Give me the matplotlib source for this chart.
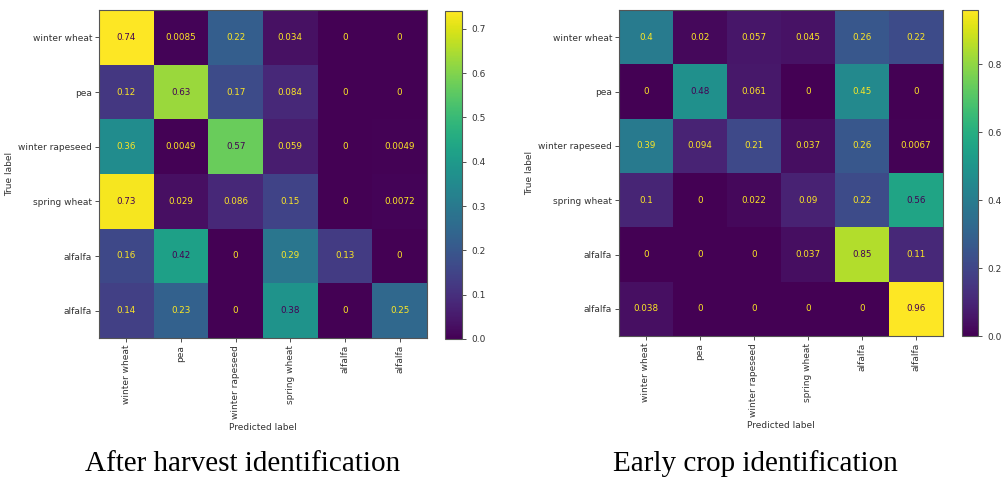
import matplotlib.pyplot as plt
import numpy as np

# class names (as printed on the figure)
labels = ['winter wheat', 'pea', 'winter rapeseed', 'spring wheat', 'alfalfa', 'alfalfa']

# normalised confusion matrices, rows = true, cols = predicted
cm_after = [
    [0.74, 0.0085, 0.22, 0.034, 0, 0],
    [0.12, 0.63, 0.17, 0.084, 0, 0],
    [0.36, 0.0049, 0.57, 0.059, 0, 0.0049],
    [0.73, 0.029, 0.086, 0.15, 0, 0.0072],
    [0.16, 0.42, 0, 0.29, 0.13, 0],
    [0.14, 0.23, 0, 0.38, 0, 0.25],
]
cm_early = [
    [0.4, 0.02, 0.057, 0.045, 0.26, 0.22],
    [0, 0.48, 0.061, 0, 0.45, 0],
    [0.39, 0.094, 0.21, 0.037, 0.26, 0.0067],
    [0.1, 0, 0.022, 0.09, 0.22, 0.56],
    [0, 0, 0, 0.037, 0.85, 0.11],
    [0.038, 0, 0, 0, 0, 0.96],
]
captions = ['After harvest identification', 'Early crop identification']

W, H = 1003, 479
fig = plt.figure(figsize=(W / 100, H / 100), dpi=100)


def box(x0, y0, x1, y1):
    # pixel box -> figure fraction
    return [x0 / W, 1 - y1 / H, (x1 - x0) / W, (y1 - y0) / H]


def draw_cm(cm, ax_box, cb_box, caption, cap_x):
    cm = np.array(cm, dtype=float)
    ax = fig.add_axes(box(*ax_box))
    cax = fig.add_axes(box(*cb_box))
    cmap = plt.get_cmap('viridis')
    im = ax.imshow(cm, cmap=cmap, aspect='auto', interpolation='nearest')
    thresh = (cm.max() + cm.min()) / 2
    for i in range(cm.shape[0]):
        for j in range(cm.shape[1]):
            v = cm[i, j]
            col = cmap(1.0) if v < thresh else cmap(0.0)
            ax.text(j, i, f'{v:.2g}', ha='center', va='center', color=col, fontsize=6.3)
    n = len(labels)
    ax.set_xticks(range(n))
    ax.set_yticks(range(n))
    ax.set_xticklabels(labels, rotation=90, fontsize=6.5)
    ax.set_yticklabels(labels, fontsize=6.5)
    ax.tick_params(length=3, width=0.6, pad=2, colors='#333333')
    ax.set_xlabel('Predicted label', fontsize=6.5, color='#333333', labelpad=3)
    ax.set_ylabel('True label', fontsize=6.5, color='#333333', labelpad=3)
    for s in ax.spines.values():
        s.set_color('#555555')
        s.set_linewidth(0.8)
    cb = fig.colorbar(im, cax=cax)
    cb.ax.tick_params(labelsize=6.5, length=3, width=0.6, colors='#333333')
    cb.outline.set_edgecolor('#555555')
    cb.outline.set_linewidth(0.8)
    fig.text(cap_x / W, 1 - 464 / H, caption, ha='center', va='center',
             fontsize=21, family='Liberation Serif')


draw_cm(cm_after, (99, 10, 427, 338), (445, 11, 462, 339), captions[0], 243)
draw_cm(cm_early, (619, 10, 943, 336), (962, 10, 978, 336), captions[1], 755)

fig.savefig('out.png', dpi=100)
